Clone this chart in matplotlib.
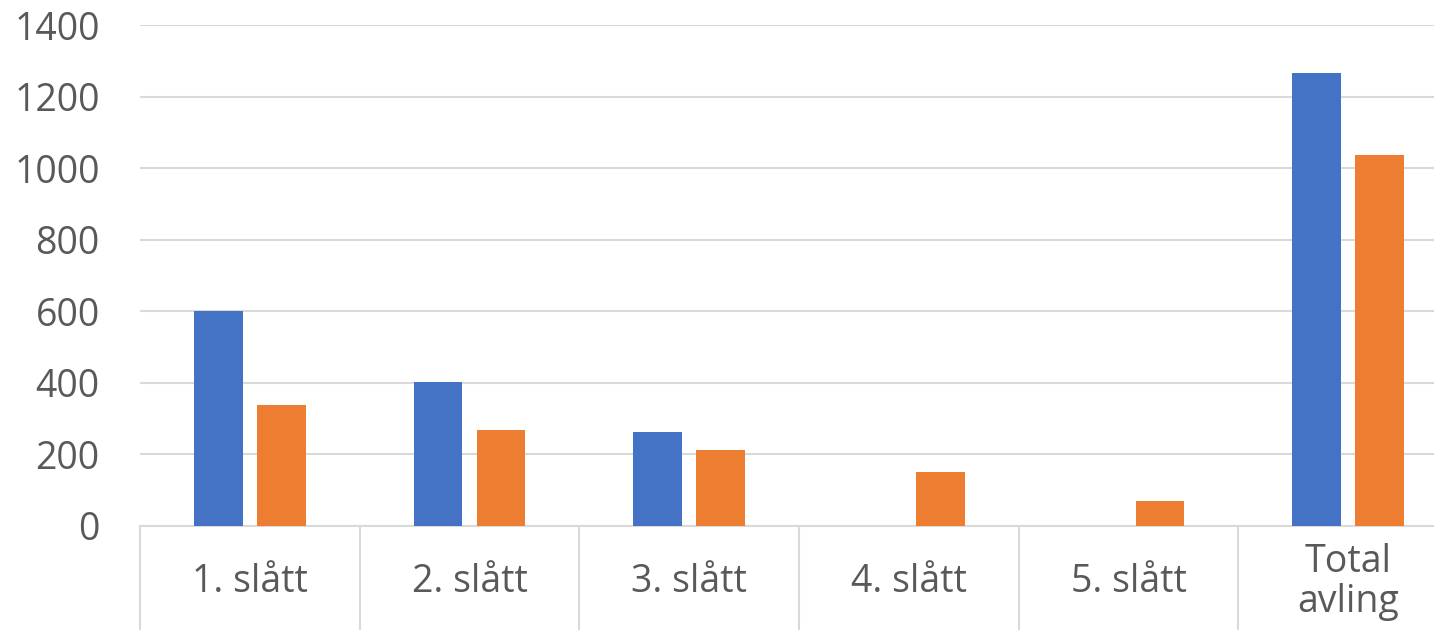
import numpy as np
import matplotlib.pyplot as plt

categories = ["1. slått", "2. slått", "3. slått", "4. slått", "5. slått", "Total\navling"]
series_a = [600, 402, 262, 0, 0, 1266]
series_b = [338, 268, 212, 151, 70, 1038]

blue = "#4472C4"
orange = "#ED7D31"
grid_col = "#D9D9D9"
text_col = "#595959"

plt.rcParams['font.family'] = ['Open Sans', 'DejaVu Sans']

fig = plt.figure(figsize=(14.34, 6.3), dpi=100)
# plot area runs past the right edge of the picture, as in the reference
ax = fig.add_axes([140 / 1434, 104 / 630, 1318 / 1434, 501 / 630])

x = np.arange(len(categories))
w = 0.223
off = 0.1434
ax.bar(x - off, series_a, width=w, color=blue, zorder=3)
ax.bar(x + off, series_b, width=w, color=orange, zorder=3)

ax.set_xlim(-0.5, len(categories) - 0.5)
ax.set_ylim(0, 1400)
ax.set_yticks(np.arange(0, 1401, 200))
ax.yaxis.grid(True, color=grid_col, linewidth=1.5, zorder=0)
ax.set_axisbelow(True)

for s in ["left", "right", "top"]:
    ax.spines[s].set_visible(False)
ax.spines["bottom"].set_color(grid_col)
ax.spines["bottom"].set_linewidth(1.5)

ax.tick_params(axis="y", length=0, pad=29, labelsize=27, labelcolor=text_col)

# category separators hanging under the axis
ax.set_xticks(np.arange(-0.5, len(categories)), minor=True)
ax.set_xticks(x)
ax.set_xticklabels([])
ax.tick_params(axis="x", which="major", length=0)
ax.tick_params(axis="x", which="minor", length=76, width=1.5, color=grid_col)

for xi, lab in zip(x, categories):
    ax.text(xi, -56 / 501 * 1400 / 1400, lab, transform=ax.get_xaxis_transform(),
            ha="center", va="center", fontsize=27, color=text_col, linespacing=1.1)

fig.savefig("out.png", dpi=100)
